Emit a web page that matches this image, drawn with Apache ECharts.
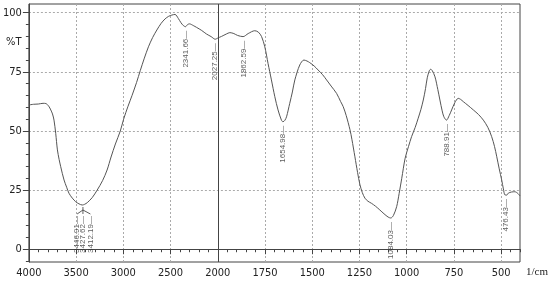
<!DOCTYPE html>
<html>
<head>
<meta charset="utf-8">
<script src="https://cdn.jsdelivr.net/npm/echarts@6/dist/echarts.min.js"></script>
<style>
  html, body { margin: 0; padding: 0; background: #fff; }
  #chart { width: 550px; height: 283px; }
</style>
</head>
<body>
<div id="chart"></div>
<script>
// IR spectrum, wavenumber (1/cm) vs transmittance (%T)
const wave = [4000, 3950, 3900, 3850, 3820, 3790, 3768, 3750, 3734, 3716, 3698, 3680, 3663, 3628, 3600, 3576, 3540, 3505, 3470, 3435, 3410, 3382, 3330, 3277, 3220, 3172, 3130, 3084, 3032, 2997, 2950, 2908, 2860, 2821, 2780, 2734, 2690, 2645, 2600, 2558, 2520, 2487, 2453, 2418, 2390, 2365, 2342, 2320, 2300, 2260, 2224, 2170, 2119, 2070, 2027, 2000, 1980, 1955, 1936, 1915, 1895, 1866, 1839, 1804, 1785, 1768, 1751, 1734, 1716, 1698, 1681, 1663, 1655, 1645, 1636, 1619, 1605, 1592, 1566, 1544, 1528, 1513, 1490, 1469, 1445, 1424, 1400, 1371, 1350, 1336, 1320, 1300, 1290, 1274, 1260, 1248, 1235, 1221, 1205, 1186, 1165, 1142, 1120, 1098, 1084, 1070, 1053, 1040, 1026, 1008, 990, 974, 955, 939, 925, 912, 900, 891, 880, 873, 865, 850, 835, 824, 812, 803, 789, 775, 762, 745, 727, 715, 700, 675, 647, 620, 594, 570, 550, 535, 523, 510, 497, 488, 480, 470, 462, 445, 427, 410, 400];
const trans = [61.0, 61.3, 61.4, 61.7, 61.6, 60.5, 58.9, 57.2, 54.6, 49.0, 42.0, 38.0, 34.9, 29.3, 26.2, 23.7, 21.6, 20.1, 19.2, 18.7, 19.0, 19.7, 21.8, 25.0, 29.0, 33.5, 39.0, 44.5, 50.0, 55.0, 60.5, 65.0, 70.5, 75.5, 80.5, 85.6, 89.5, 92.7, 95.5, 97.4, 98.5, 99.0, 99.3, 97.6, 95.8, 94.6, 94.1, 95.0, 95.3, 94.6, 93.8, 92.5, 91.0, 89.9, 88.8, 89.3, 90.0, 91.0, 91.6, 91.2, 90.4, 89.9, 91.2, 92.4, 91.8, 89.9, 85.6, 78.6, 71.6, 64.5, 58.9, 54.6, 53.9, 54.5, 56.0, 61.7, 66.5, 71.6, 77.9, 80.0, 79.6, 78.9, 77.5, 75.8, 73.8, 71.6, 69.0, 65.9, 62.5, 60.3, 56.5, 50.5, 46.5, 39.1, 32.5, 27.5, 24.0, 21.6, 20.3, 19.4, 18.2, 16.6, 15.0, 13.6, 13.2, 14.3, 18.0, 23.5, 30.0, 38.5, 43.5, 47.6, 51.5, 55.4, 59.0, 63.1, 68.0, 72.5, 75.5, 76.1, 75.6, 72.9, 67.5, 63.1, 58.5, 56.0, 54.6, 56.5, 58.9, 62.0, 63.8, 63.4, 62.4, 60.8, 58.9, 57.0, 54.6, 51.5, 47.6, 43.5, 39.1, 34.0, 29.3, 25.5, 23.0, 22.9, 23.7, 24.2, 24.3, 23.5, 22.5];

const peakText = ['3446.91', '3427.62', '3412.19', '2341.66', '2027.25', '1862.59', '1654.98', '1084.03', '788.91', '476.43'];
const peakWave = [3446.91, 3427.62, 3412.19, 2341.66, 2027.25, 1862.59, 1654.98, 1084.03, 788.91, 476.43];
const peakT = [18.7, 18.7, 18.7, 94.1, 88.8, 89.9, 53.9, 13.2, 54.6, 22.9];

const xTickLabels = [4000, 3500, 3000, 2500, 2000, 1750, 1500, 1250, 1000, 750, 500];
const yTickLabels = [0, 25, 50, 75, 100];

// above 2000 1/cm the scale is compressed by half
function toAxis(w) { return w <= 2000 ? w : 2000 + (w - 2000) / 2; }
function fromAxis(u) { return u <= 2000 ? u : 2000 + (u - 2000) * 2; }

const xMin = 400, xMax = 3000, yMin = -5.4, yMax = 103.7;
const xMinor = [];
for (let u = 400; u <= 3000; u += 50) xMinor.push(u);
const yMinor = [];
for (let v = -5; v <= 100; v += 5) yMinor.push(v);
const xMajor = xTickLabels.map(toAxis);

const narrow = '"Liberation Sans Narrow", "DejaVu Sans Condensed", "Liberation Sans", sans-serif';
const axisColor = '#444';
const gridLine = { show: true, lineStyle: { color: '#aaa', type: [2, 2], width: 1 } };

const clusterOffset = [-4, 0, 6];

const chart = echarts.init(document.getElementById('chart'), null, { renderer: 'canvas' });

chart.setOption({
  animation: false,
  backgroundColor: '#fff',
  grid: { left: 28, right: 30, top: 4, bottom: 21, show: true, borderColor: axisColor, borderWidth: 1 },
  xAxis: [
    {
      type: 'value', position: 'bottom', inverse: true, min: xMin, max: xMax,
      axisLine: { show: true, lineStyle: { color: axisColor } },
      axisTick: { show: true, length: 3, customValues: xMinor, lineStyle: { color: axisColor } },
      axisLabel: {
        customValues: xMajor, margin: 6, color: '#222', fontSize: 11, fontFamily: narrow,
        formatter: (v) => String(fromAxis(v))
      },
      splitLine: { show: false }
    },
    {
      type: 'value', position: 'bottom', inverse: true, min: xMin, max: xMax,
      axisLine: { show: false },
      axisTick: { show: true, length: 5, customValues: xMajor, lineStyle: { color: axisColor } },
      axisLabel: { show: false },
      splitLine: gridLine
    }
  ],
  yAxis: [
    {
      type: 'value', position: 'left', min: yMin, max: yMax,
      axisLine: { show: true, lineStyle: { color: axisColor } },
      axisTick: { show: true, length: 3, customValues: yMinor, lineStyle: { color: axisColor } },
      axisLabel: { customValues: yTickLabels, margin: 7, color: '#222', fontSize: 11, fontFamily: narrow },
      splitLine: { show: false }
    },
    {
      type: 'value', position: 'left', min: yMin, max: yMax,
      axisLine: { show: false },
      axisTick: { show: true, length: 6, customValues: yTickLabels, lineStyle: { color: axisColor } },
      axisLabel: { show: false },
      splitLine: gridLine
    }
  ],
  graphic: [
    { id: 'unitY', type: 'text', left: 6, top: 37, style: { text: '%T', fontSize: 11, fontFamily: narrow, fill: '#222' } },
    { id: 'unitX', type: 'text', left: 526, top: 267, style: { text: '1/cm', fontSize: 11, fontFamily: '"Liberation Serif", serif', fill: '#222' } }
  ],
  series: [
    {
      type: 'line',
      xAxisIndex: 0, yAxisIndex: 0,
      data: wave.map((w, i) => [toAxis(w), trans[i]]),
      smooth: 0.3,
      showSymbol: false,
      lineStyle: { color: '#555', width: 1 },
      markLine: {
        silent: true, symbol: 'none', label: { show: false },
        lineStyle: { color: '#444', type: 'solid', width: 1 },
        data: [{ xAxis: toAxis(2000) }]
      },
      z: 3
    },
    {
      type: 'scatter',
      xAxisIndex: 0, yAxisIndex: 0,
      symbolSize: 0,
      data: peakWave.map((w, i) => ({
        name: peakText[i],
        value: [toAxis(w), peakT[i]],
        label: i < 3 ? { offset: [0, clusterOffset[i]], distance: 11 } : {}
      })),
      label: {
        show: true, position: 'bottom', distance: 4, rotate: 90,
        align: 'right', verticalAlign: 'middle',
        fontSize: 8, fontFamily: '"Liberation Sans", Arial, sans-serif', color: '#333',
        formatter: (p) => p.name + '\u2014'
      },
      z: 4
    }
  ]
});

// bracket joining the three close peaks near 3430 1/cm
const base = chart.convertToPixel({ xAxisIndex: 0, yAxisIndex: 0 }, [toAxis(peakWave[1]), peakT[1]]);
const bracket = [{
  id: 'stem', type: 'line', z: 10,
  shape: { x1: base[0], y1: base[1] + 2, x2: base[0], y2: base[1] + 5 },
  style: { stroke: '#333', lineWidth: 0.8 }
}];
for (let i = 0; i < 3; i++) {
  const p = chart.convertToPixel({ xAxisIndex: 0, yAxisIndex: 0 }, [toAxis(peakWave[i]), peakT[i]]);
  bracket.push({
    id: 'branch' + i, type: 'line', z: 10,
    shape: { x1: base[0], y1: base[1] + 5, x2: p[0] + clusterOffset[i], y2: base[1] + 9 },
    style: { stroke: '#333', lineWidth: 0.8 }
  });
}
chart.setOption({ graphic: bracket });
</script>
</body>
</html>
